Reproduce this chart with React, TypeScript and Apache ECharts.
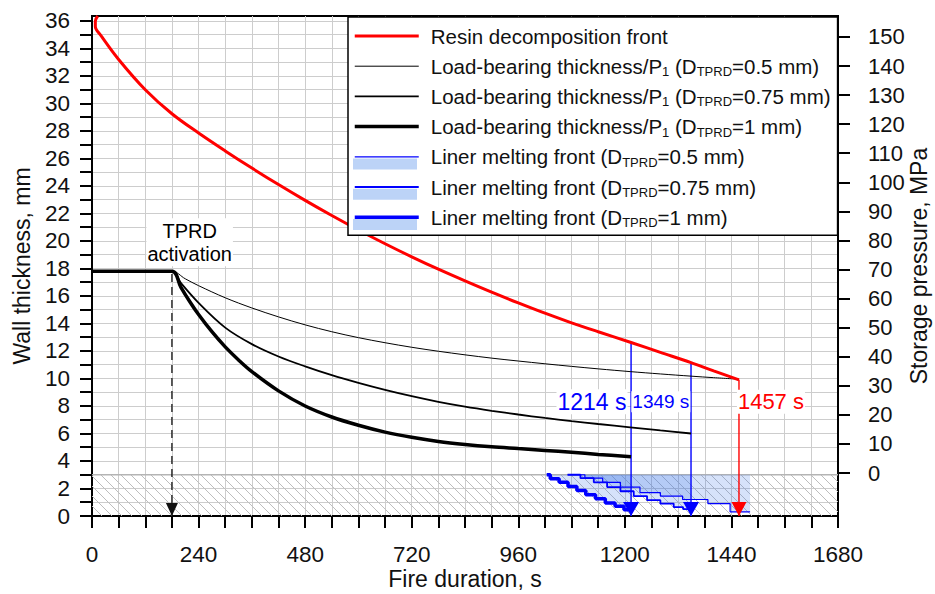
import React, { useEffect, useRef } from 'react';
import * as echarts from 'echarts';

const FONT = "'Liberation Sans', Arial, Helvetica, sans-serif";

// ---- axis ticks / labels ----
const xTicks = Array.from({ length: 29 }, (_, i) => i * 60);
const xLabels = [0, 240, 480, 720, 960, 1200, 1440, 1680];
const yTicks = Array.from({ length: 37 }, (_, i) => i);
const yLabels = [0, 2, 4, 6, 8, 10, 12, 14, 16, 18, 20, 22, 24, 26, 28, 30, 32, 34, 36];
const pTicks = [0, 10, 20, 30, 40, 50, 60, 70, 80, 90, 100, 110, 120, 130, 140, 150];

// ---- series data: [time s, thickness mm] ----
const resinFront = [
  [13, 36.36], [7.5, 36.0], [7.5, 35.6], [21, 34.9], [60, 33.2], [120, 31.0],
  [180, 29.25], [240, 27.85], [300, 26.55], [360, 25.3], [420, 24.1], [480, 22.95], [540, 21.85],
  [600, 20.8], [660, 19.8], [720, 18.85], [780, 17.95], [840, 17.1], [900, 16.28], [960, 15.5],
  [1020, 14.75], [1080, 14.05], [1140, 13.4], [1214, 12.62], [1280, 11.9], [1349, 11.15],
  [1400, 10.55], [1457, 9.9],
];
const loadThin = [
  [0, 17.8], [180, 17.8], [210, 17.25], [240, 16.75], [300, 15.87], [360, 15.13],
  [420, 14.48], [480, 13.9], [540, 13.4], [600, 12.97], [660, 12.6], [720, 12.27], [780, 11.98],
  [840, 11.72], [900, 11.48], [960, 11.27], [1020, 11.07], [1080, 10.88], [1140, 10.7],
  [1212, 10.5], [1280, 10.33], [1349, 10.17], [1400, 10.06], [1457, 9.95],
];
const loadMedium = [
  [0, 17.8], [180, 17.8], [200, 16.95], [240, 15.5], [300, 13.7], [360, 12.5], [420, 11.6],
  [480, 10.88], [540, 10.24], [600, 9.68], [660, 9.17], [720, 8.71], [780, 8.3], [840, 7.95],
  [900, 7.65], [960, 7.38], [1020, 7.13], [1080, 6.9], [1140, 6.69], [1212, 6.45], [1280, 6.22],
  [1349, 6.0],
];
const loadThick = [
  [0, 17.8], [180, 17.8], [200, 16.65], [220, 15.6], [240, 14.65], [270, 13.4], [300, 12.3],
  [330, 11.35], [360, 10.5], [420, 9.1], [480, 8.0], [540, 7.2], [600, 6.6], [660, 6.1],
  [720, 5.72], [780, 5.42], [840, 5.2], [900, 5.03], [960, 4.9], [1020, 4.77], [1080, 4.63],
  [1140, 4.48], [1214, 4.3],
];
const linerThin = [
  [1071, 3.0], [1110, 2.75], [1150, 2.45], [1190, 2.1], [1234, 1.7], [1280, 1.45],
  [1330, 1.2], [1387, 0.9], [1437, 0.3], [1482, 0.3],
];
const linerMedium = [
  [1071, 3.0], [1100, 2.75], [1130, 2.45], [1160, 2.1], [1190, 1.8], [1220, 1.45],
  [1250, 1.15], [1280, 0.9], [1310, 0.65], [1331, 0.5], [1349, 0.35],
];
const linerThick = [
  [1024, 3.0], [1032, 2.7], [1052, 2.45], [1072, 2.15], [1092, 1.85], [1112, 1.55],
  [1134, 1.25], [1156, 0.95], [1178, 0.7], [1198, 0.45], [1214, 0.3],
];
// liner zone (hatched): [t from, t to, mm bottom, mm top]
const linerZone = [0, 1680, 0, 3];

// ---- markers ----
const tprdTime = 180;
const tprdTop = 17.6;
const markerTimes = [1214, 1349, 1457];
const markerTops = [12.62, 11.15, 9.9];
const markerTexts = ['1214 s', '1349 s', '1457 s'];
const markerTextAt = [[1126, 8.3], [1281, 8.3], [1529, 8.3]];
const tprdText = 'TPRD\nactivation';
const tprdTextAt = [220, 19.9];

const names = [
  'Resin decomposition front',
  'Load-bearing thickness/P1 (DTPRD=0.5 mm)',
  'Load-bearing thickness/P1 (DTPRD=0.75 mm)',
  'Load-bearing thickness/P1 (DTPRD=1 mm)',
  'Liner melting front (DTPRD=0.5 mm)',
  'Liner melting front (DTPRD=0.75 mm)',
  'Liner melting front (DTPRD=1 mm)',
];
const richNames: Record<string, string> = {
  [names[0]]: '{f|Resin decomposition front}',
  [names[1]]: '{f|Load-bearing thickness/P}{s|1}{n| (D}{s|TPRD}{n|=0.5 mm)}',
  [names[2]]: '{f|Load-bearing thickness/P}{s|1}{n| (D}{s|TPRD}{n|=0.75 mm)}',
  [names[3]]: '{f|Load-bearing thickness/P}{s|1}{n| (D}{s|TPRD}{n|=1 mm)}',
  [names[4]]: '{f|Liner melting front (D}{s|TPRD}{n|=0.5 mm)}',
  [names[5]]: '{f|Liner melting front (D}{s|TPRD}{n|=0.75 mm)}',
  [names[6]]: '{f|Liner melting front (D}{s|TPRD}{n|=1 mm)}',
};

const BLUE = '#0000ff';
const RED = '#ff0000';
const AREA = 'rgba(60,120,230,0.3)';
const arrowPath = 'path://M0,0 L10,0 L5,10 Z';
const lineColors = [RED, '#000', '#000', '#000', BLUE, BLUE, BLUE];
const lineWidths = [3, 1, 1.8, 3.5, 1.2, 1.8, 3.5];

function arrowSeries(t: number, top: number, color: string, size: number[], dashed = false) {
  return {
    type: 'line',
    name: 'marker' + t,
    silent: true,
    z: 4,
    symbol: 'none',
    showSymbol: true,
    color,
    lineStyle: { color, width: dashed ? 1.3 : 1.4, type: dashed ? [8, 5] : 'solid' },
    data: [
      { value: [t, top], symbol: 'none' },
      {
        value: [t, 0],
        symbol: arrowPath,
        symbolSize: size,
        symbolOffset: [0, -size[1] / 2],
        itemStyle: { color },
      },
    ],
  };
}

function buildOption() {
  const axisLbl = { fontFamily: FONT, fontSize: 22.5, color: '#111', formatter: (v: number) => String(v) };
  const legendRowY = (i: number) => 17 + 7 + 12 + 30.2 * i;
  const txt = { fontFamily: FONT, fontSize: 20.5, color: '#111', lineHeight: 24 };
  return {
    animation: false,
    backgroundColor: '#fff',
    grid: {
      left: 92, right: 97, top: 16, bottom: 78, show: true, borderColor: '#000', borderWidth: 2,
      backgroundColor: 'transparent', containLabel: false, outerBoundsMode: 'none',
    },
    xAxis: {
      type: 'value', min: 0, max: 1680, interval: 60,
      name: 'Fire duration, s', nameLocation: 'middle', nameGap: 51, nameMoveOverlap: false,
      nameTextStyle: { fontFamily: FONT, fontSize: 23, color: '#111' },
      axisLine: { show: true, onZero: false, lineStyle: { color: '#000', width: 2 } },
      axisTick: { show: true, length: 12, customValues: xTicks, lineStyle: { color: '#000', width: 2 } },
      axisLabel: { ...axisLbl, customValues: xLabels, margin: 27 },
      splitLine: { show: true, lineStyle: { color: '#cdcdcd', width: 1 } },
    },
    yAxis: [
      {
        type: 'value', min: 0, max: 36.36, interval: 1, position: 'left',
        name: 'Wall thickness, mm', nameLocation: 'middle', nameGap: 59, nameMoveOverlap: false,
        nameTextStyle: { fontFamily: FONT, fontSize: 23, color: '#111' },
        axisLine: { show: true, onZero: false, lineStyle: { color: '#000', width: 2 } },
        axisTick: { show: true, length: 12, customValues: yTicks, lineStyle: { color: '#000', width: 2 } },
        axisLabel: { ...axisLbl, customValues: yLabels, margin: 22 },
        splitLine: { show: true, lineStyle: { color: '#cdcdcd', width: 1 } },
      },
      {
        type: 'value', min: -14.79, max: 157.2, position: 'right',
        name: 'Storage pressure, MPa', nameLocation: 'middle', nameGap: 69, nameMoveOverlap: false,
        nameTextStyle: { fontFamily: FONT, fontSize: 23, color: '#111' },
        axisLine: { show: true, onZero: false, lineStyle: { color: '#000', width: 2 } },
        axisTick: { show: true, length: 12, customValues: pTicks, lineStyle: { color: '#000', width: 2 } },
        axisLabel: { ...axisLbl, fontSize: 22, customValues: pTicks, margin: 30 },
        splitLine: { show: false },
      },
    ],
    legend: {
      orient: 'vertical', left: 348, top: 17, padding: [7, 7, 6, 5],
      itemWidth: 64, itemHeight: 1, itemGap: 6.2,
      backgroundColor: '#fff', borderColor: '#000', borderWidth: 1.5,
      itemStyle: { opacity: 0 },
      data: names.map((name, i) => ({
        name,
        itemStyle: { opacity: 0 },
        lineStyle: { color: lineColors[i], width: lineWidths[i], opacity: 1 },
      })),
      formatter: (name: string) => richNames[name] || name,
      textStyle: {
        ...txt,
        rich: {
          f: { ...txt, padding: [0, 0, 0, 7] },
          n: { ...txt },
          s: { fontFamily: FONT, fontSize: 13, color: '#111', lineHeight: 13, verticalAlign: 'bottom' },
        },
      },
      z: 10,
    },
    graphic: [4, 5, 6].map((i) => ({
      type: 'rect', z: 20, silent: true,
      shape: { x: 353, y: legendRowY(i) + 1.8, width: 64, height: 11 },
      style: { fill: '#bcd3f7' },
    })),
    series: [
      {
        type: 'custom', name: 'linerZone', silent: true, z: 1,
        encode: { x: [0, 1], y: [2, 3] },
        data: [linerZone],
        renderItem: (params: any, api: any) => {
          const p0 = api.coord([api.value(0), api.value(3)]);
          const p1 = api.coord([api.value(1), api.value(2)]);
          const left = p0[0], top = p0[1], right = p1[0], bottom = p1[1];
          const h = bottom - top;
          const children: any[] = [];
          for (let x = left - h; x < right; x += 10) {
            let x1 = x, y1 = top, x2 = x + h, y2 = bottom;
            if (x1 < left) { y1 = top + (left - x1); x1 = left; }
            if (x2 > right) { y2 = top + (right - x); x2 = right; }
            if (x2 <= x1) continue;
            children.push({ type: 'line', shape: { x1, y1, x2, y2 }, style: { stroke: '#bdbdbd', lineWidth: 1 } });
          }
          children.push({ type: 'line', shape: { x1: left, y1: top, x2: right, y2: top }, style: { stroke: '#b4b4b4', lineWidth: 1.6 } });
          return { type: 'group', children };
        },
      },
      ...[
        [names[4], linerThin, lineWidths[4]],
        [names[5], linerMedium, lineWidths[5]],
        [names[6], linerThick, lineWidths[6]],
      ].map(([name, data, w]) => ({
        type: 'line', name, data, step: 'end', symbol: 'none', z: 2, color: BLUE,
        lineStyle: { color: BLUE, width: w },
        areaStyle: { color: AREA, origin: 3 },
      })),
      {
        type: 'line', name: names[0], data: resinFront, symbol: 'none', smooth: 0.35, z: 6, color: RED,
        lineStyle: { color: RED, width: lineWidths[0] },
      },
      ...[
        [names[1], loadThin, lineWidths[1]],
        [names[2], loadMedium, lineWidths[2]],
        [names[3], loadThick, lineWidths[3]],
      ].map(([name, data, w]) => ({
        type: 'line', name, data, symbol: 'none', smooth: 0.35, z: 5, color: '#000',
        lineStyle: { color: '#000', width: w },
      })),
      arrowSeries(tprdTime, tprdTop, '#111', [12, 13], true),
      arrowSeries(markerTimes[0], markerTops[0], BLUE, [16, 14]),
      arrowSeries(markerTimes[1], markerTops[1], BLUE, [16, 14]),
      arrowSeries(markerTimes[2], markerTops[2], RED, [15, 14]),
      {
        type: 'scatter', name: 'annotations', silent: true, symbolSize: 0, z: 8,
        data: [
          { name: tprdText, value: tprdTextAt, label: { color: '#000', fontSize: 20, lineHeight: 23 } },
          { name: markerTexts[0], value: markerTextAt[0], label: { color: BLUE, fontSize: 23 } },
          { name: markerTexts[1], value: markerTextAt[1], label: { color: BLUE, fontSize: 19 } },
          { name: markerTexts[2], value: markerTextAt[2], label: { color: RED, fontSize: 22 } },
        ],
        label: {
          show: true, position: 'inside', formatter: (p: any) => p.name,
          fontFamily: FONT, backgroundColor: '#fff', padding: [1, 1],
          textBorderWidth: 0, textBorderColor: 'transparent', opacity: 1,
        },
      },
    ],
  };
}

export default function App() {
  const ref = useRef<HTMLDivElement>(null);
  useEffect(() => {
    const chart = echarts.init(ref.current!, null, { renderer: 'svg' });
    chart.setOption(buildOption() as any);
    return () => chart.dispose();
  }, []);
  return (
    <div
      ref={ref}
      style={{ position: 'fixed', left: 0, top: 0, width: 935, height: 594, background: '#fff' }}
    />
  );
}
